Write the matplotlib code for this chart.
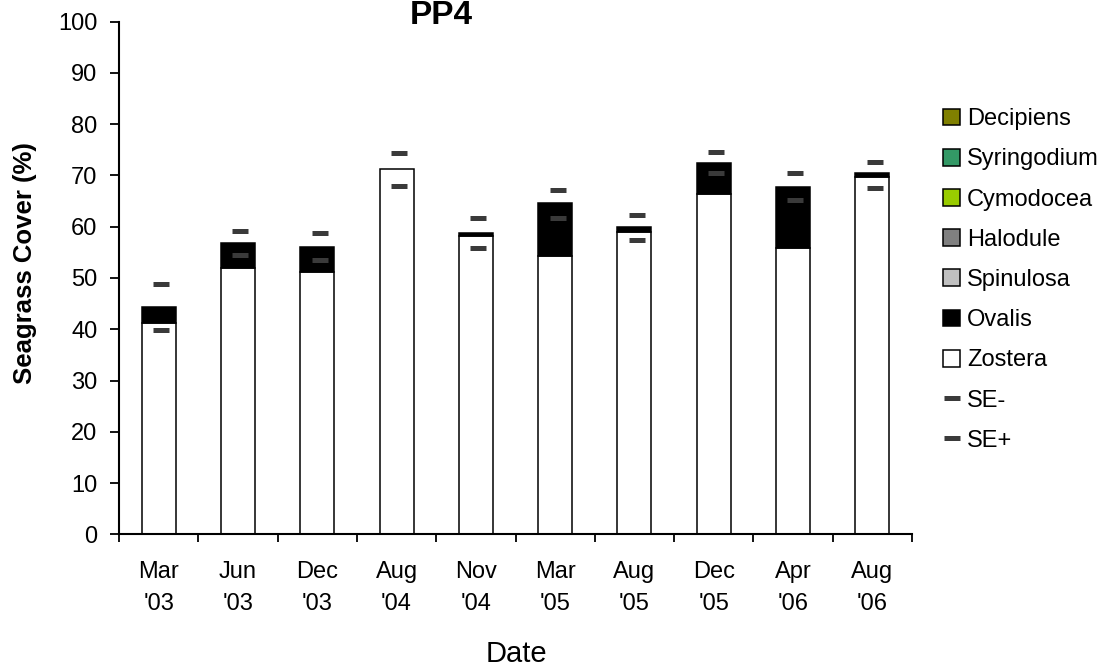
import matplotlib
matplotlib.use("Agg")
import matplotlib.pyplot as plt
import numpy as np
from matplotlib.lines import Line2D
from matplotlib.patches import Patch

plt.rcParams['font.family'] = ['Liberation Sans', 'DejaVu Sans']

dates = ["Mar\n'03", "Jun\n'03", "Dec\n'03", "Aug\n'04", "Nov\n'04",
         "Mar\n'05", "Aug\n'05", "Dec\n'05", "Apr\n'06", "Aug\n'06"]
zostera = [41.3, 51.9, 51.1, 71.2, 58.1, 54.2, 58.9, 66.3, 55.8, 69.8]
ovalis = [3.1, 4.9, 4.9, 0.0, 0.6, 10.4, 1.0, 6.1, 11.9, 0.6]
spinulosa = [0] * 10
halodule = [0] * 10
cymodocea = [0] * 10
syringodium = [0] * 10
decipiens = [0] * 10
se_minus = [39.9, 54.4, 53.6, 68.0, 55.9, 61.8, 57.5, 70.4, 65.3, 67.6]
se_plus = [48.9, 59.1, 58.7, 74.3, 61.8, 67.2, 62.2, 74.6, 70.4, 72.7]

series = [("Zostera", zostera, "#FFFFFF"),
          ("Ovalis", ovalis, "#000000"),
          ("Spinulosa", spinulosa, "#C0C0C0"),
          ("Halodule", halodule, "#808080"),
          ("Cymodocea", cymodocea, "#99CC00"),
          ("Syringodium", syringodium, "#339966"),
          ("Decipiens", decipiens, "#808000")]

W, H = 1108, 671
fig = plt.figure(figsize=(W / 100, H / 100), dpi=100)
ax = fig.add_axes([119 / W, 1 - 534.3 / H, (912 - 119) / W, (534.3 - 21.7) / H])

x = np.arange(len(dates))
bottom = np.zeros(len(dates))
colors = {}
for name, vals, col in series:
    v = np.array(vals, dtype=float)
    lw = np.where(v > 0, 1.1, 0.0)
    ax.bar(x, v, width=0.43, bottom=bottom, color=col, edgecolor='black',
           linewidth=lw, zorder=2)
    colors[name] = col
    bottom += v

se_col = '#3a3a3a'
ax.plot(x + 0.03, se_minus, linestyle='none', marker='_', markersize=12,
        markeredgewidth=3.6, color=se_col, zorder=3)
ax.plot(x + 0.03, se_plus, linestyle='none', marker='_', markersize=12,
        markeredgewidth=3.6, color=se_col, zorder=3)

ax.set_xlim(-0.5, len(dates) - 0.5)
ax.set_ylim(0, 100)
ax.set_yticks(np.arange(0, 101, 10))
ax.set_xticks(x)
ax.set_xticklabels(dates, fontsize=17, linespacing=1.6)
ax.set_xticks(np.arange(-0.5, len(dates), 1), minor=True)
ax.tick_params(axis='x', which='major', length=0, pad=19)
ax.tick_params(axis='x', which='minor', length=6, width=1.3, direction='out')
ax.tick_params(axis='y', which='major', length=6.5, width=1.3, direction='out',
               labelsize=17, pad=9)
for s in ['top', 'right']:
    ax.spines[s].set_visible(False)
for s in ['left', 'bottom']:
    ax.spines[s].set_linewidth(1.5)

fig.text(441 / W, 1 - 24 / H, "PP4", fontsize=24, fontweight='bold',
         ha='center', va='baseline')
fig.text(25 / W, 1 - 263 / H, "Seagrass Cover (%)", fontsize=18.5,
         fontweight='bold', rotation=90, ha='center', va='center')
fig.text(516 / W, 1 - 661.7 / H, "Date", fontsize=21, ha='center',
         va='baseline')

leg_order = ["Decipiens", "Syringodium", "Cymodocea", "Halodule", "Spinulosa",
             "Ovalis", "Zostera"]
hs = [Patch(facecolor=colors[n], edgecolor='black', linewidth=1.1)
      for n in leg_order]
labels = list(leg_order)
hs += [Line2D([], [], linestyle='none', marker='_', markersize=12,
              markeredgewidth=3.6, color=se_col),
       Line2D([], [], linestyle='none', marker='_', markersize=12,
              markeredgewidth=3.6, color=se_col)]
labels += ["SE-", "SE+"]
fig.legend(hs, labels, loc='center left', bbox_to_anchor=(943 / W, 1 - 280 / H),
           frameon=False, fontsize=17, handlelength=0.72, handleheight=0.72,
           handletextpad=0.3, labelspacing=0.77, borderpad=0, borderaxespad=0)

fig.savefig("out.png", dpi=100)
